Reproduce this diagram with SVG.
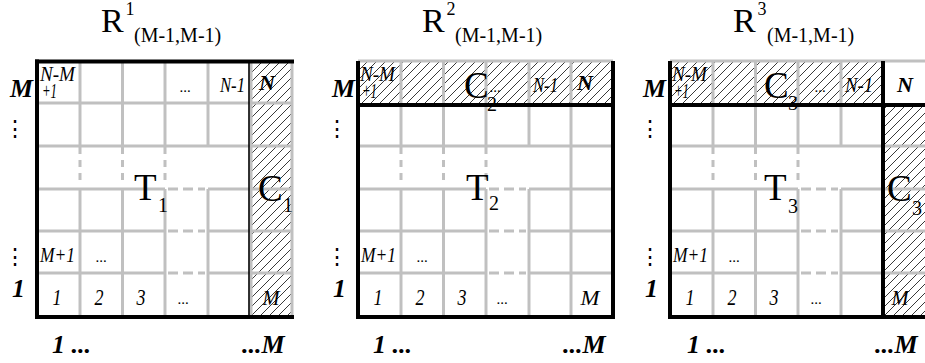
<svg xmlns="http://www.w3.org/2000/svg" width="925" height="363" viewBox="0 0 925 363">
<defs>
<pattern id="hatch" patternUnits="userSpaceOnUse" width="9" height="9">
<path d="M-1,1 L1,-1 M0,9 L9,0 M8,10 L10,8" stroke="#222" stroke-width="0.9"/>
</pattern>
<g id="gridV">
<line x1="0" y1="61" x2="0" y2="146"/>
<line x1="0" y1="189" x2="0" y2="317"/>
</g>
</defs>
<style>
.t{font-family:"Liberation Serif","Times New Roman",serif;fill:#000}
.big{font-size:34px}
.bg2{font-size:37px}
.sup{font-size:18px}
.sub{font-size:20px}
.s19{font-size:20px}
.lab{font-size:26px;font-weight:bold;font-style:italic}
.ci{font-size:21px;font-style:italic}
.dg{font-size:23px;font-style:italic;text-anchor:middle}
.cb{font-size:21px;font-style:italic;font-weight:bold}
.dt{font-size:15px;text-anchor:middle}
.mid{text-anchor:middle}
.vd{font-family:"DejaVu Serif",serif;font-size:22px;text-anchor:middle}
.g{stroke:#c0c0c0;stroke-width:3;fill:none}
.gdv{stroke-dasharray:7 6}
.gdh{stroke-dasharray:10 5}
.k{stroke:#000;stroke-width:4;fill:none}
</style>

<!-- Panel 1 -->
<g id="panel-1">
<rect x="250" y="61" width="42" height="256" fill="url(#hatch)"/>
<g id="grid-1" class="g">
<line x1="37" y1="103" x2="292" y2="103"/>
<line x1="37" y1="146" x2="292" y2="146"/>
<line x1="37" y1="189" x2="165" y2="189"/><line class="gdh" x1="168" y1="189" x2="205" y2="189"/><line x1="208" y1="189" x2="292" y2="189"/>
<line x1="37" y1="231" x2="165" y2="231"/><line class="gdh" x1="168" y1="231" x2="205" y2="231"/><line x1="208" y1="231" x2="292" y2="231"/>
<line x1="37" y1="273" x2="165" y2="273"/><line class="gdh" x1="168" y1="273" x2="205" y2="273"/><line x1="208" y1="273" x2="292" y2="273"/>
<use href="#gridV" x="80"/><line class="gdv" x1="80" y1="147" x2="80" y2="182"/>
<use href="#gridV" x="122.5"/><line class="gdv" x1="122.5" y1="147" x2="122.5" y2="182"/>
<use href="#gridV" x="165"/><line class="gdv" x1="165" y1="147" x2="165" y2="182"/>
<use href="#gridV" x="208"/>
<line x1="251" y1="61" x2="251" y2="317"/>
<line x1="292" y1="61" x2="292" y2="317"/>
</g>
<line x1="249" y1="61" x2="249" y2="317" stroke="#000" stroke-width="1.6"/>
<g id="frame-1" class="k">
<line x1="35" y1="61.5" x2="294" y2="61.5"/>
<line x1="37" y1="59.5" x2="37" y2="319"/>
<line x1="35" y1="317" x2="294" y2="317"/>
</g>
<g id="labels-1">
<text class="t big" x="101" y="32">R</text><text class="t sup" x="125.5" y="15">1</text><text class="t sub" x="134" y="42">(M-1,M-1)</text>
<text class="t lab" x="10" y="97" textLength="23" lengthAdjust="spacingAndGlyphs">M</text>
<text class="t vd" x="15" y="136">⋮</text>
<text class="t vd" x="15" y="264">⋮</text>
<text class="t lab" x="12" y="297">1</text>
<text class="t lab" x="52" y="353">1 ...</text>
<text class="t lab" x="242" y="353">...M</text>
<text class="t ci" x="40" y="81" textLength="35" lengthAdjust="spacingAndGlyphs">N-M</text><text class="t ci" x="42" y="98" textLength="15" lengthAdjust="spacingAndGlyphs">+1</text>
<text class="t dt" x="185" y="92">...</text>
<text class="t ci" x="220" y="92" textLength="25" lengthAdjust="spacingAndGlyphs">N-1</text>
<text class="t cb" x="259" y="90" textLength="16" lengthAdjust="spacingAndGlyphs">N</text>
<text class="t ci" x="40" y="262" textLength="35" lengthAdjust="spacingAndGlyphs">M+1</text>
<text class="t dt" x="101" y="262">...</text>
<text class="t dg" x="57" y="305" textLength="9" lengthAdjust="spacingAndGlyphs">1</text>
<text class="t dg" x="99" y="305" textLength="9" lengthAdjust="spacingAndGlyphs">2</text>
<text class="t dg" x="141" y="305" textLength="9" lengthAdjust="spacingAndGlyphs">3</text>
<text class="t dt" x="183" y="304">...</text>
<text class="t ci mid" x="271" y="305" textLength="17" lengthAdjust="spacingAndGlyphs">M</text>
<text class="t bg2" x="134" y="200">T</text><text class="t s19" x="158" y="212">1</text>
<text class="t bg2" x="258" y="201">C</text><text class="t s19" x="283" y="212">1</text>
</g>
</g>

<!-- Panel 2 -->
<g id="panel-2" transform="translate(321,0)">
<rect x="37" y="61" width="255" height="44" fill="url(#hatch)"/>
<g id="grid-2" class="g">
<line x1="37" y1="61" x2="292" y2="61"/>
<line x1="37" y1="146" x2="292" y2="146"/>
<line x1="37" y1="189" x2="165" y2="189"/><line class="gdh" x1="168" y1="189" x2="205" y2="189"/><line x1="208" y1="189" x2="292" y2="189"/>
<line x1="37" y1="231" x2="165" y2="231"/><line class="gdh" x1="168" y1="231" x2="205" y2="231"/><line x1="208" y1="231" x2="292" y2="231"/>
<line x1="37" y1="273" x2="165" y2="273"/><line class="gdh" x1="168" y1="273" x2="205" y2="273"/><line x1="208" y1="273" x2="292" y2="273"/>
<use href="#gridV" x="80"/><line class="gdv" x1="80" y1="147" x2="80" y2="182"/>
<use href="#gridV" x="122.5"/><line class="gdv" x1="122.5" y1="147" x2="122.5" y2="182"/>
<use href="#gridV" x="165"/><line class="gdv" x1="165" y1="147" x2="165" y2="182"/>
<use href="#gridV" x="208"/>
<line x1="250" y1="61" x2="250" y2="317"/>
</g>
<g id="frame-2" class="k">
<line x1="37" y1="61" x2="37" y2="319"/>
<line x1="292" y1="61" x2="292" y2="319"/>
<line x1="37" y1="105" x2="292" y2="105"/>
<line x1="35" y1="317" x2="294" y2="317"/>
</g>
<g id="labels-2">
<text class="t big" x="101" y="32">R</text><text class="t sup" x="125.5" y="15">2</text><text class="t sub" x="134" y="42">(M-1,M-1)</text>
<text class="t lab" x="11" y="97" textLength="23" lengthAdjust="spacingAndGlyphs">M</text>
<text class="t vd" x="16" y="136">⋮</text>
<text class="t vd" x="16" y="264">⋮</text>
<text class="t lab" x="12" y="297">1</text>
<text class="t lab" x="52" y="353">1 ...</text>
<text class="t lab" x="242" y="353">...M</text>
<text class="t ci" x="39" y="81" textLength="35" lengthAdjust="spacingAndGlyphs">N-M</text><text class="t ci" x="41" y="98" textLength="15" lengthAdjust="spacingAndGlyphs">+1</text>
<text class="t bg2" x="143" y="98">C</text><text class="t s19" x="166" y="111">2</text>
<text class="t dt" x="174" y="92">...</text>
<text class="t ci" x="212" y="92" textLength="25" lengthAdjust="spacingAndGlyphs">N-1</text>
<text class="t cb" x="256" y="90" textLength="16" lengthAdjust="spacingAndGlyphs">N</text>
<text class="t ci" x="40" y="262" textLength="35" lengthAdjust="spacingAndGlyphs">M+1</text>
<text class="t dt" x="101" y="262">...</text>
<text class="t dg" x="57" y="305" textLength="9" lengthAdjust="spacingAndGlyphs">1</text>
<text class="t dg" x="99" y="305" textLength="9" lengthAdjust="spacingAndGlyphs">2</text>
<text class="t dg" x="141" y="305" textLength="9" lengthAdjust="spacingAndGlyphs">3</text>
<text class="t dt" x="181" y="304">...</text>
<text class="t ci mid" x="269" y="305" textLength="19" lengthAdjust="spacingAndGlyphs">M</text>
<text class="t bg2" x="145" y="200">T</text><text class="t s19" x="168" y="210">2</text>
</g>
</g>

<!-- Panel 3 -->
<g id="panel-3" transform="translate(633,0)">
<rect x="37" y="61" width="213" height="44" fill="url(#hatch)"/>
<rect x="250" y="105" width="42" height="212" fill="url(#hatch)"/>
<g id="grid-3" class="g">
<line x1="37" y1="61" x2="292" y2="61"/>
<line x1="37" y1="146" x2="292" y2="146"/>
<line x1="37" y1="189" x2="165" y2="189"/><line class="gdh" x1="168" y1="189" x2="205" y2="189"/><line x1="208" y1="189" x2="292" y2="189"/>
<line x1="37" y1="231" x2="165" y2="231"/><line class="gdh" x1="168" y1="231" x2="205" y2="231"/><line x1="208" y1="231" x2="292" y2="231"/>
<line x1="37" y1="273" x2="165" y2="273"/><line class="gdh" x1="168" y1="273" x2="205" y2="273"/><line x1="208" y1="273" x2="292" y2="273"/>
<use href="#gridV" x="80"/><line class="gdv" x1="80" y1="147" x2="80" y2="182"/>
<use href="#gridV" x="122.5"/><line class="gdv" x1="122.5" y1="147" x2="122.5" y2="182"/>
<use href="#gridV" x="165"/><line class="gdv" x1="165" y1="147" x2="165" y2="182"/>
<use href="#gridV" x="208"/>
</g>
<g id="frame-3" class="k">
<line x1="37" y1="61" x2="37" y2="319"/>
<line x1="250" y1="61" x2="250" y2="319"/>
<line x1="37" y1="105" x2="292" y2="105"/>
<line x1="35" y1="317" x2="294" y2="317"/>
</g>
<g id="labels-3">
<text class="t big" x="100" y="32">R</text><text class="t sup" x="124.5" y="15">3</text><text class="t sub" x="134" y="42">(M-1,M-1)</text>
<text class="t lab" x="10" y="97" textLength="23" lengthAdjust="spacingAndGlyphs">M</text>
<text class="t vd" x="17" y="136">⋮</text>
<text class="t vd" x="17" y="264">⋮</text>
<text class="t lab" x="12" y="297">1</text>
<text class="t lab" x="54" y="353">1 ...</text>
<text class="t lab" x="242" y="353">...M</text>
<text class="t ci" x="39" y="81" textLength="35" lengthAdjust="spacingAndGlyphs">N-M</text><text class="t ci" x="41" y="98" textLength="15" lengthAdjust="spacingAndGlyphs">+1</text>
<text class="t bg2" x="131" y="98">C</text><text class="t s19" x="155" y="110">3</text>
<text class="t dt" x="187" y="92">...</text>
<text class="t ci" x="212" y="92" textLength="28" lengthAdjust="spacingAndGlyphs">N-1</text>
<text class="t cb" x="264" y="92" textLength="16" lengthAdjust="spacingAndGlyphs">N</text>
<text class="t ci" x="40" y="262" textLength="35" lengthAdjust="spacingAndGlyphs">M+1</text>
<text class="t dt" x="101" y="262">...</text>
<text class="t dg" x="57" y="305" textLength="9" lengthAdjust="spacingAndGlyphs">1</text>
<text class="t dg" x="99" y="305" textLength="9" lengthAdjust="spacingAndGlyphs">2</text>
<text class="t dg" x="141" y="305" textLength="9" lengthAdjust="spacingAndGlyphs">3</text>
<text class="t dt" x="183" y="304">...</text>
<text class="t ci mid" x="267" y="305" textLength="17" lengthAdjust="spacingAndGlyphs">M</text>
<text class="t bg2" x="131" y="200">T</text><text class="t s19" x="155" y="213">3</text>
<text class="t bg2" x="254" y="201">C</text><text class="t s19" x="279" y="215">3</text>
</g>
</g>
</svg>
